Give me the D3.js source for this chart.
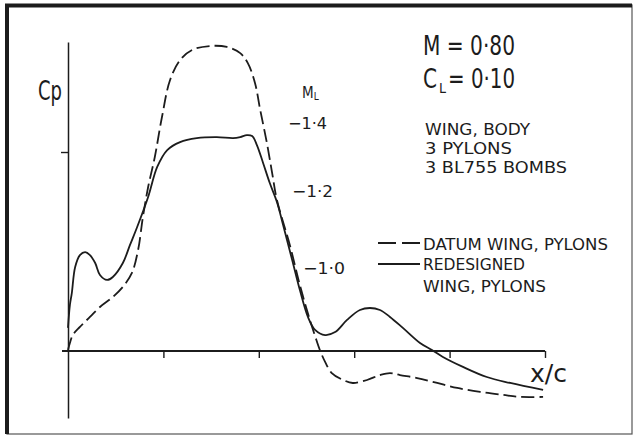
<!doctype html>
<html>
  <head>
    <meta charset="utf-8">
    <script src="https://cdn.jsdelivr.net/npm/d3@7/dist/d3.min.js"></script>
    <style>
      body { margin: 0; background: white; }
      .chart { display: block; background-color: white; }
      .chart text {
        font-family: "DejaVu Sans Condensed", "DejaVu Sans", sans-serif;
        fill: #1c1c1c;
      }
    </style>
  </head>
  <body>
    <svg class="chart"></svg>
    <script>
      // x/c stations and Cp values
      const datumX  = [0, 0.004, 0.010, 0.025, 0.046, 0.067, 0.094, 0.115, 0.134, 0.147, 0.157, 0.168, 0.182, 0.197,
                       0.214, 0.235, 0.260, 0.298, 0.333, 0.361, 0.377, 0.392, 0.403, 0.417, 0.428, 0.438, 0.465,
                       0.486, 0.507, 0.518, 0.528, 0.539, 0.553, 0.577, 0.597, 0.627, 0.654, 0.675, 0.696, 0.732,
                       0.774, 0.816, 0.864, 0.912, 0.948, 0.996]
      const datumCp = [-0.005, -0.040, -0.080, -0.121, -0.171, -0.221, -0.271, -0.322, -0.392, -0.508, -0.673, -0.824,
                       -0.975, -1.176, -1.362, -1.462, -1.513, -1.533, -1.528, -1.497, -1.447, -1.347, -1.211, -1.045,
                       -0.894, -0.759, -0.533, -0.332, -0.156, -0.075, -0.005, 0.055, 0.111, 0.146, 0.161, 0.146,
                       0.121, 0.111, 0.121, 0.136, 0.161, 0.186, 0.206, 0.221, 0.231, 0.231]

      const redesX  = [0, 0.004, 0.008, 0.015, 0.025, 0.036, 0.046, 0.057, 0.067, 0.082, 0.094, 0.115, 0.130, 0.145,
                       0.168, 0.187, 0.208, 0.235, 0.270, 0.312, 0.346, 0.361, 0.375, 0.386, 0.396, 0.409, 0.423,
                       0.438, 0.451, 0.470, 0.486, 0.503, 0.518, 0.539, 0.560, 0.585, 0.612, 0.633, 0.654, 0.675,
                       0.702, 0.738, 0.763, 0.786, 0.828, 0.878, 0.927, 0.996]
      const redesCp = [-0.116, -0.231, -0.291, -0.422, -0.482, -0.497, -0.482, -0.442, -0.382, -0.357, -0.372, -0.442,
                       -0.533, -0.623, -0.774, -0.925, -1.010, -1.050, -1.070, -1.075, -1.070, -1.075, -1.085, -1.080,
                       -1.035, -0.945, -0.844, -0.749, -0.633, -0.457, -0.307, -0.171, -0.106, -0.080, -0.095, -0.156,
                       -0.206, -0.216, -0.206, -0.171, -0.116, -0.040, -0.005, 0.030, 0.080, 0.131, 0.161, 0.196]

      const xTicks = [0.2, 0.4, 0.6, 0.8, 1.0]
      const yTicks = [-1.0]
      // local Mach number scale on the right, with the Cp it sits at
      const mlLabels = ["\u22121\u00b74", "\u22121\u00b72", "\u22121\u00b70"]
      const mlCp = [-1.146, -0.804, -0.417]

      const seriesNames = ["DATUM WING, PYLONS", "REDESIGNED", "WING, PYLONS"]
      const caseNotes = ["WING, BODY", "3 PYLONS", "3 BL755 BOMBS"]

      const W = 634, H = 436
      const ink = "#1c1c1c"

      const xScale = d3.scaleLinear().domain([0, 1]).range([68, 545])
      const yScale = d3.scaleLinear().domain([0.337, -1.553]).range([418, 42])

      const svg = d3.select(".chart")
                    .attr("width", W)
                    .attr("height", H)

      // frame: heavy on the left and top, light on the others
      svg.append("rect")
          .attr("x", 7).attr("y", 5)
          .attr("width", 625).attr("height", 429)
          .attr("fill", "none")
          .attr("stroke", "#555")
          .attr("stroke-width", 1.2)
      svg.append("line")
          .attr("x1", 7).attr("x2", 7).attr("y1", 4).attr("y2", 434)
          .attr("stroke", ink).attr("stroke-width", 4)
      svg.append("line")
          .attr("x1", 5).attr("x2", 632).attr("y1", 5.5).attr("y2", 5.5)
          .attr("stroke", ink).attr("stroke-width", 4)

      // x axis
      const xAxis = d3.axisBottom(xScale)
                      .tickValues(xTicks)
                      .tickSize(7)
                      .tickFormat("")
      const gx = svg.append("g")
          .attr("transform", "translate(0," + yScale(0) + ")")
          .call(xAxis)
      gx.select(".domain").remove()
      gx.selectAll(".tick line").attr("stroke", ink).attr("stroke-width", 1.4)
      gx.append("line")
          .attr("x1", xScale(0) - 6).attr("x2", xScale(1))
          .attr("stroke", ink).attr("stroke-width", 2)

      // y axis
      const yAxis = d3.axisLeft(yScale)
                      .tickValues(yTicks)
                      .tickSize(7)
                      .tickSizeOuter(0)
                      .tickFormat("")
      const gy = svg.append("g")
          .attr("transform", "translate(" + xScale(0) + ",0)")
          .call(yAxis)
      gy.select(".domain").attr("stroke", ink).attr("stroke-width", 1.5)
      gy.selectAll(".tick line").attr("stroke", ink).attr("stroke-width", 1.4)

      const line = d3.line()
                     .x(d => xScale(d[0]))
                     .y(d => yScale(d[1]))
                     .curve(d3.curveCatmullRom.alpha(0.5))

      const datum = datumX.map((x, i) => [x, datumCp[i]])
      const redes = redesX.map((x, i) => [x, redesCp[i]])

      svg.append("path")
          .datum(datum)
          .attr("d", line)
          .attr("fill", "none")
          .attr("stroke", ink)
          .attr("stroke-width", 1.8)
          .attr("stroke-dasharray", "13,5")

      svg.append("path")
          .datum(redes)
          .attr("d", line)
          .attr("fill", "none")
          .attr("stroke", ink)
          .attr("stroke-width", 1.8)

      // axis titles
      svg.append("text")
          .attr("x", 38).attr("y", 100)
          .attr("font-size", 27)
          .attr("textLength", 24).attr("lengthAdjust", "spacingAndGlyphs")
          .text("Cp")

      svg.append("text")
          .attr("x", 530).attr("y", 382)
          .attr("font-size", 24)
          .attr("textLength", 37).attr("lengthAdjust", "spacingAndGlyphs")
          .text("x/c")

      // M_L scale
      const ml = svg.append("text")
          .attr("x", 302).attr("y", 98)
          .attr("font-size", 15)
      ml.append("tspan").text("M")
      ml.append("tspan").attr("font-size", 10).attr("dy", 2).text("L")

      const mlX = [288, 292, 303]
      svg.selectAll(".ml")
        .data(mlLabels)
        .enter().append("text")
          .attr("class", "ml")
          .attr("x", (d, i) => mlX[i])
          .attr("y", (d, i) => yScale(mlCp[i]) + 6)
          .attr("font-size", 16)
          .attr("textLength", (d, i) => [39, 41, 42][i])
          .attr("lengthAdjust", "spacingAndGlyphs")
          .text(d => d)

      // flight case
      svg.append("text")
          .attr("x", 423).attr("y", 55)
          .attr("font-size", 27)
          .attr("textLength", 92).attr("lengthAdjust", "spacingAndGlyphs")
          .text("M = 0\u00b780")

      const cl = svg.append("text")
          .attr("x", 423).attr("y", 88)
          .attr("font-size", 27)
      cl.append("tspan")
          .attr("textLength", 14).attr("lengthAdjust", "spacingAndGlyphs")
          .text("C")
      cl.append("tspan")
          .attr("x", 439).attr("dy", 5)
          .attr("font-size", 14)
          .text("L")
      cl.append("tspan")
          .attr("x", 448).attr("dy", -5)
          .attr("textLength", 67).attr("lengthAdjust", "spacingAndGlyphs")
          .text("= 0\u00b710")

      svg.selectAll(".note")
        .data(caseNotes)
        .enter().append("text")
          .attr("class", "note")
          .attr("x", 425)
          .attr("y", (d, i) => 135 + i * 19)
          .attr("font-size", 16.5)
          .attr("textLength", (d, i) => [105, 87, 142][i])
          .attr("lengthAdjust", "spacingAndGlyphs")
          .text(d => d)

      // legend
      const legend = svg.append("g")
      legend.append("line")
          .attr("x1", 378).attr("x2", 420).attr("y1", 243).attr("y2", 243)
          .attr("stroke", ink).attr("stroke-width", 1.8)
          .attr("stroke-dasharray", "18,6")
      legend.append("line")
          .attr("x1", 378).attr("x2", 420).attr("y1", 264).attr("y2", 264)
          .attr("stroke", ink).attr("stroke-width", 1.8)
      legend.selectAll(".leg")
        .data(seriesNames)
        .enter().append("text")
          .attr("class", "leg")
          .attr("x", 423)
          .attr("y", (d, i) => [250, 270, 292][i])
          .attr("font-size", 16.5)
          .attr("textLength", (d, i) => [185, 102, 123][i])
          .attr("lengthAdjust", "spacingAndGlyphs")
          .text(d => d)
    </script>
  </body>
</html>
